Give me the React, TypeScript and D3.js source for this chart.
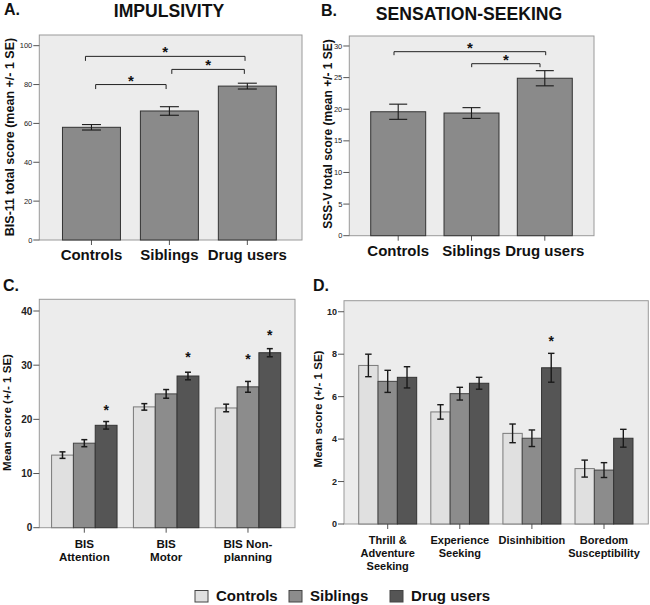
import React from "react";
import * as d3 from "d3";

const FONT = "'Liberation Sans', Arial, Helvetica, sans-serif";

// ---------- Data ----------
const groupNames = ["Controls", "Siblings", "Drug users"];

const bisTotalMean = [58.0, 66.4, 79.2];
const bisTotalSE = [1.4, 2.2, 1.5];
const bisTotalTicks = [0, 20, 40, 60, 80, 100];
const bisTotalBrackets = [
  { from: 0, to: 2, y: 94.5 },
  { from: 1, to: 2, y: 87.8 },
  { from: 0, to: 1, y: 80.0 },
];

const sssTotalMean = [19.6, 19.4, 24.9];
const sssTotalSE = [1.2, 0.85, 1.2];
const sssTotalTicks = [0, 5, 10, 15, 20, 25, 30];
const sssTotalBrackets = [
  { from: 0, to: 2, y: 29.1 },
  { from: 1, to: 2, y: 27.2 },
];

const bisSubscales = [["BIS", "Attention"], ["BIS", "Motor"], ["BIS Non-", "planning"]];
const bisSubControls = [13.4, 22.3, 22.1];
const bisSubControlsSE = [0.6, 0.6, 0.7];
const bisSubSiblings = [15.6, 24.7, 26.0];
const bisSubSiblingsSE = [0.65, 0.8, 1.0];
const bisSubDrug = [18.9, 28.0, 32.3];
const bisSubDrugSE = [0.7, 0.7, 0.75];
const bisSubTicks = [0, 10, 20, 30, 40];
const bisSubStars = [
  { cat: 0, series: 2, y: 22.3 },
  { cat: 1, series: 2, y: 32.0 },
  { cat: 2, series: 1, y: 31.7 },
  { cat: 2, series: 2, y: 36.2 },
];

const sssSubscales = [
  ["Thrill &", "Adventure", "Seeking"],
  ["Experience", "Seeking"],
  ["Disinhibition"],
  ["Boredom", "Susceptibility"],
];
const sssSubControls = [7.47, 5.28, 4.27, 2.61];
const sssSubControlsSE = [0.53, 0.34, 0.44, 0.4];
const sssSubSiblings = [6.72, 6.14, 4.04, 2.54];
const sssSubSiblingsSE = [0.52, 0.3, 0.39, 0.35];
const sssSubDrug = [6.91, 6.63, 7.36, 4.04];
const sssSubDrugSE = [0.5, 0.28, 0.68, 0.42];
const sssSubTicks = [0, 2, 4, 6, 8, 10];
const sssSubStars = [{ cat: 2, series: 2, y: 8.75 }];

// ---------- Styles ----------
const BG = "#ececec";
const BOX = "#9a9a9a";
const FILL_SINGLE = "#8a8a8a";
const FILLS = ["#e0e0e0", "#8c8c8c", "#555555"];
const STROKES = ["#7a7a7a", "#444444", "#333333"];

type Series = { mean: number[]; se: number[]; fill: string; stroke: string };
type Bracket = { from: number; to: number; y: number };
type Star = { cat: number; series: number; y: number };

type PanelProps = {
  left: number; right: number; top: number; bottom: number;
  yMax: number; ticks: number[]; tickFont: number; tickWeight: any;
  cats: string[][]; bandRange: [number, number]; padIn: number; padOut: number;
  series: Series[]; capW: number; errW: number;
  catFont: number; catLine: number; catBaseline: number;
  yLabel: string; yLabelX: number; yLabelY: number; yLabelFont: number;
  brackets?: Bracket[]; bracketInset?: number[][]; bracketDrop?: number;
  stars?: Star[]; starFont: number;
};

function Panel(p: PanelProps) {
  const y = d3.scaleLinear().domain([0, p.yMax]).range([p.bottom, p.top]);
  const x0 = d3
    .scaleBand<number>()
    .domain(p.cats.map((_, i) => i))
    .range(p.bandRange)
    .paddingInner(p.padIn)
    .paddingOuter(p.padOut);
  const x1 = d3
    .scaleBand<number>()
    .domain(p.series.map((_, i) => i))
    .range([0, x0.bandwidth()]);
  const cx = (c: number, s: number) => (x0(c) as number) + (x1(s) as number) + x1.bandwidth() / 2;
  const starY = (v: number) => y(v) + 0.57 * p.starFont;

  return (
    <g>
      <rect x={p.left} y={p.top} width={p.right - p.left} height={p.bottom - p.top} fill={BG} stroke={BOX} strokeWidth={1} />
      {p.ticks.map((t) => (
        <g key={"t" + t}>
          <line x1={p.left - 6} x2={p.left} y1={y(t)} y2={y(t)} stroke="#555" strokeWidth={1} />
          <text x={p.left - 7} y={y(t)} dy="0.35em" textAnchor="end" fontSize={p.tickFont} fontWeight={p.tickWeight} fill="#222" fontFamily={FONT}>
            {t}
          </text>
        </g>
      ))}
      {p.cats.map((lines, c) => {
        const mid = (x0(c) as number) + x0.bandwidth() / 2;
        return (
          <g key={"c" + c}>
            <line x1={mid} x2={mid} y1={p.bottom} y2={p.bottom + 5} stroke="#555" strokeWidth={1} />
            {lines.map((ln, k) => (
              <text key={k} x={mid} y={p.catBaseline + k * p.catLine} textAnchor="middle" fontSize={p.catFont} fontWeight="bold" fill="#111" fontFamily={FONT}>
                {ln}
              </text>
            ))}
          </g>
        );
      })}
      {p.series.map((s, si) =>
        s.mean.map((m, c) => {
          const xl = (x0(c) as number) + (x1(si) as number);
          return (
            <rect key={"b" + si + "-" + c} x={xl} y={y(m)} width={x1.bandwidth()} height={y(0) - y(m)} fill={s.fill} stroke={s.stroke} strokeWidth={1} />
          );
        })
      )}
      {p.series.map((s, si) =>
        s.mean.map((m, c) => {
          const xc = cx(c, si);
          const hi = y(m + s.se[c]);
          const lo = y(m - s.se[c]);
          return (
            <g key={"e" + si + "-" + c} stroke="#1a1a1a" strokeWidth={p.errW}>
              <line x1={xc} x2={xc} y1={hi} y2={lo} />
              <line x1={xc - p.capW / 2} x2={xc + p.capW / 2} y1={hi} y2={hi} />
              <line x1={xc - p.capW / 2} x2={xc + p.capW / 2} y1={lo} y2={lo} />
            </g>
          );
        })
      )}
      {(p.brackets || []).map((b, i) => {
        const ins = (p.bracketInset || [])[i] || [0, 0];
        const xa = cx(b.from, 0) + ins[0];
        const xb = cx(b.to, 0) + ins[1];
        const yy = y(b.y);
        const d = p.bracketDrop || 4;
        return (
          <g key={"br" + i}>
            <path d={`M${xa},${yy + d}V${yy}H${xb}V${yy + d}`} fill="none" stroke="#222" strokeWidth={1} />
            <text x={(xa + xb) / 2} y={yy - 7.5 + 0.57 * p.starFont} textAnchor="middle" fontSize={p.starFont} fontWeight="bold" fill="#111" fontFamily={FONT}>
              *
            </text>
          </g>
        );
      })}
      {(p.stars || []).map((st, i) => (
        <text key={"s" + i} x={cx(st.cat, st.series)} y={starY(st.y)} textAnchor="middle" fontSize={p.starFont} fontWeight="bold" fill="#111" fontFamily={FONT}>
          *
        </text>
      ))}
      <text
        transform={`translate(${p.yLabelX},${p.yLabelY}) rotate(-90)`}
        textAnchor="middle"
        fontSize={p.yLabelFont}
        fontWeight="bold"
        fill="#111"
        fontFamily={FONT}
      >
        {p.yLabel}
      </text>
    </g>
  );
}

export default function App() {
  const single = (mean: number[], se: number[]): Series[] => [{ mean, se, fill: FILL_SINGLE, stroke: "#333" }];
  const triple = (m: number[][], s: number[][]): Series[] =>
    m.map((mean, i) => ({ mean, se: s[i], fill: FILLS[i], stroke: STROKES[i] }));

  return (
    <svg width={650} height={605} style={{ position: "absolute", left: 0, top: 0, background: "#fff" }} fontFamily={FONT}>
      <rect x={0} y={0} width={650} height={605} fill="#fff" />
      {/* Titles */}
      <text x={4} y={15} fontSize={16} fontWeight="bold" fill="#111">A.</text>
      <text x={169} y={17} textAnchor="middle" fontSize={17.6} fontWeight="bold" fill="#111">IMPULSIVITY</text>
      <text x={321} y={15.5} fontSize={16} fontWeight="bold" fill="#111">B.</text>
      <text x={469} y={20} textAnchor="middle" fontSize={17.6} fontWeight="bold" fill="#111">SENSATION-SEEKING</text>
      <text x={3} y={290.5} fontSize={16} fontWeight="bold" fill="#111">C.</text>
      <text x={313} y={290.5} fontSize={16} fontWeight="bold" fill="#111">D.</text>

      <Panel
        left={39.3} right={302} top={35} bottom={240}
        yMax={105.5} ticks={bisTotalTicks} tickFont={7.5} tickWeight="normal"
        cats={groupNames.map((g) => [g])} bandRange={[52.5, 286.3]} padIn={0.256} padOut={0.128}
        series={single(bisTotalMean, bisTotalSE)} capW={19} errW={1.1}
        catFont={15} catLine={15} catBaseline={260}
        yLabel="BIS-11 total score (mean +/- 1 SE)" yLabelX={14} yLabelY={137} yLabelFont={12.5}
        brackets={bisTotalBrackets} bracketInset={[[-6, -2.3], [2.4, -3], [4.2, -3.3]]} bracketDrop={4.5}
        starFont={15}
      />
      <Panel
        left={349.3} right={594} top={36} bottom={235.7}
        yMax={31.58} ticks={sssTotalTicks} tickFont={7.5} tickWeight="normal"
        cats={groupNames.map((g) => [g])} bandRange={[361.55, 581.45]} padIn={0.25} padOut={0.125}
        series={single(sssTotalMean, sssTotalSE)} capW={18} errW={1.1}
        catFont={15} catLine={15} catBaseline={256}
        yLabel="SSS-V total score (mean +/- 1 SE)" yLabelX={332} yLabelY={134} yLabelFont={12}
        brackets={sssTotalBrackets} bracketInset={[[-4.2, 0.9], [0.2, -4.8]]} bracketDrop={3.5}
        starFont={15}
      />
      <Panel
        left={39.3} right={295} top={299.3} bottom={527.7}
        yMax={42.16} ticks={bisSubTicks} tickFont={10} tickWeight="bold"
        cats={bisSubscales} bandRange={[43.4, 288.9]} padIn={0.2} padOut={0.1}
        series={triple([bisSubControls, bisSubSiblings, bisSubDrug], [bisSubControlsSE, bisSubSiblingsSE, bisSubDrugSE])}
        capW={6} errW={1.5}
        catFont={11.6} catLine={13} catBaseline={548}
        yLabel="Mean score (+/- 1 SE)" yLabelX={11} yLabelY={412.5} yLabelFont={11.6}
        stars={bisSubStars} starFont={14}
      />
      <Panel
        left={344} right={648.3} top={300.7} bottom={524}
        yMax={10.52} ticks={sssSubTicks} tickFont={9} tickWeight="bold"
        cats={sssSubscales} bandRange={[351.65, 640.05]} padIn={0.196} padOut={0.098}
        series={triple([sssSubControls, sssSubSiblings, sssSubDrug], [sssSubControlsSE, sssSubSiblingsSE, sssSubDrugSE])}
        capW={6.5} errW={1.4}
        catFont={11} catLine={13} catBaseline={544}
        yLabel="Mean score (+/- 1 SE)" yLabelX={322} yLabelY={409} yLabelFont={11.6}
        stars={sssSubStars} starFont={14}
      />

      {/* Legend */}
      {groupNames.map((g, i) => {
        const sx = [195, 289, 390][i];
        return (
          <g key={"lg" + i}>
            <rect x={sx} y={590.5} width={13} height={11.5} fill={FILLS[i]} stroke="#444" strokeWidth={1} />
            <text x={sx + 21} y={601} fontSize={15} fontWeight="bold" fill="#111">{g}</text>
          </g>
        );
      })}
    </svg>
  );
}
